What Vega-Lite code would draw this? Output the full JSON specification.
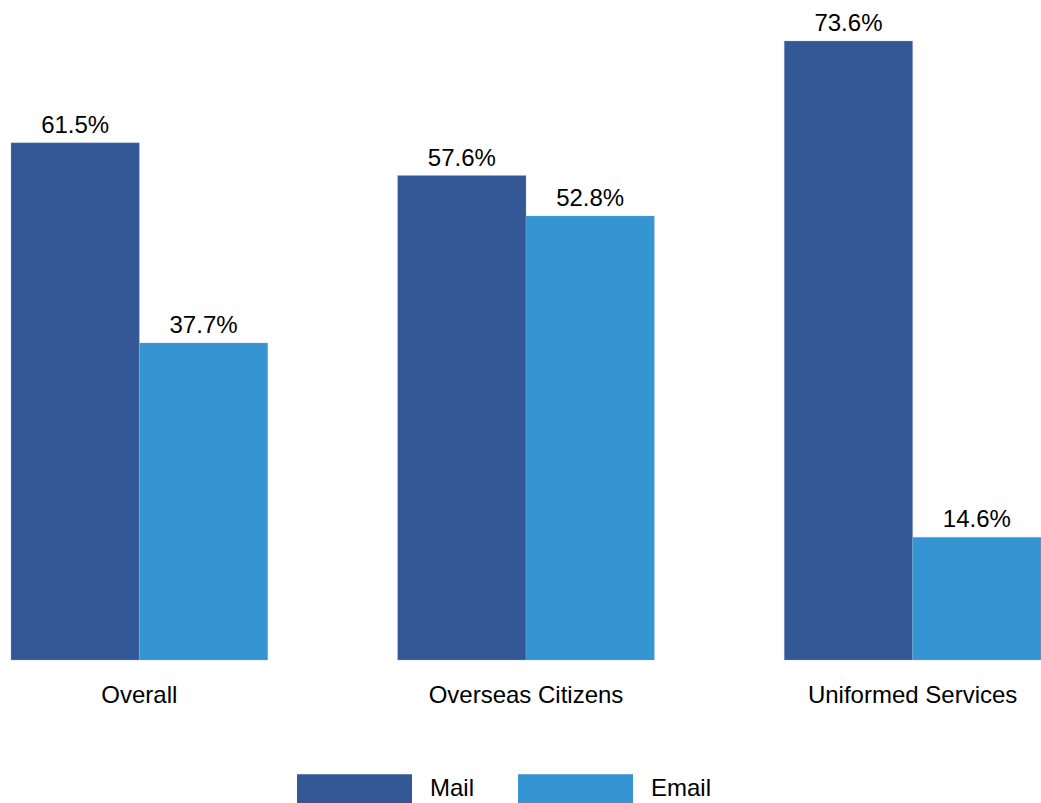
{
  "$schema": "https://vega.github.io/schema/vega-lite/v6.json",
  "autosize": {"type": "none"},
  "padding": {"left": 11, "top": 0, "right": 0, "bottom": 143},
  "width": 1030,
  "height": 660,
  "config": {"view": {"stroke": null}, "font": "Liberation Sans"},
  "data": {"values": [
    {"group": "Overall", "type": "Mail", "value": 61.5, "label": "61.5%"},
    {"group": "Overall", "type": "Email", "value": 37.7, "label": "37.7%"},
    {"group": "Overseas Citizens", "type": "Mail", "value": 57.6, "label": "57.6%"},
    {"group": "Overseas Citizens", "type": "Email", "value": 52.8, "label": "52.8%"},
    {"group": "Uniformed Services", "type": "Mail", "value": 73.6, "label": "73.6%"},
    {"group": "Uniformed Services", "type": "Email", "value": 14.6, "label": "14.6%"}
  ]},
  "encoding": {
    "x": {"field": "group", "type": "nominal", "sort": ["Overall", "Overseas Citizens", "Uniformed Services"],
      "scale": {"paddingInner": 0.336, "paddingOuter": 0},
      "axis": {"title": null, "labelAngle": 0, "ticks": false, "domain": false, "labelFontSize": 24, "labelLimit": 500, "labelBaseline": "alphabetic", "labelPadding": 42, "labelColor": "#000000", "labelFont": "Liberation Sans"}},
    "xOffset": {"field": "type", "type": "nominal", "sort": ["Mail", "Email"], "scale": {"paddingInner": 0, "paddingOuter": 0}},
    "y": {"field": "value", "type": "quantitative", "scale": {"domain": [0, 78.48]}, "axis": null}
  },
  "layer": [
    {
      "mark": {"type": "bar", "stroke": "#8fb0d8", "strokeWidth": 0.5, "strokeOpacity": 0.6},
      "encoding": {
        "color": {"field": "type", "type": "nominal", "sort": ["Mail", "Email"],
          "scale": {"domain": ["Mail", "Email"], "range": ["#335895", "#3595D3"]},
          "legend": {"title": null, "orient": "none", "direction": "horizontal", "legendX": 286, "legendY": 731.5,
            "symbolType": "M-1,-0.26H1V0.26H-1Z", "symbolSize": 13225, "symbolStrokeWidth": 0, "symbolOpacity": 1,
            "labelFontSize": 24, "labelOffset": 18, "columnPadding": 43, "labelColor": "#000000", "labelFont": "Liberation Sans"}}
      }
    },
    {
      "mark": {"type": "text", "baseline": "alphabetic", "dy": -10, "fontSize": 24, "color": "#000000"},
      "encoding": {"text": {"field": "label"}}
    }
  ]
}
